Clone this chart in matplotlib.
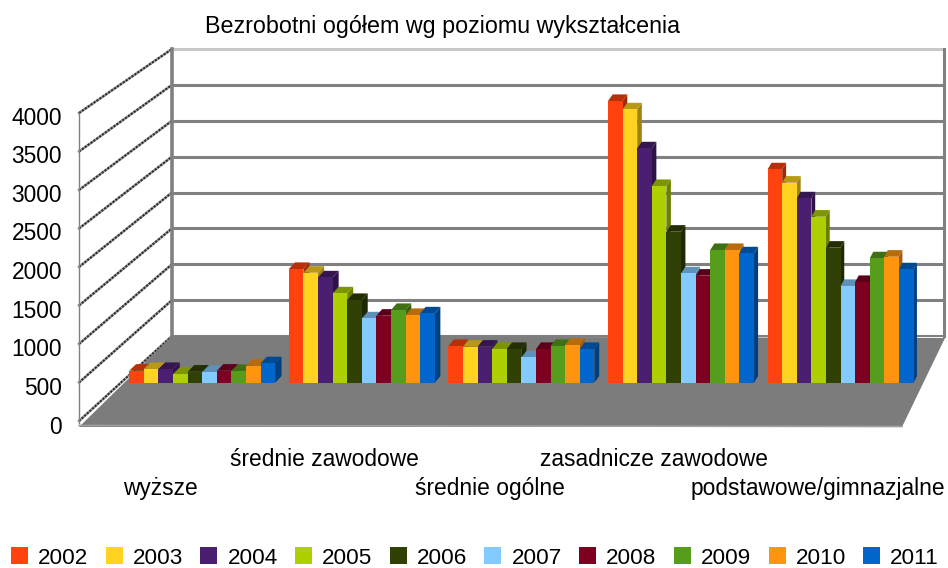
import matplotlib
matplotlib.use("Agg")
import matplotlib.pyplot as plt
from matplotlib.patches import Polygon, Rectangle
from matplotlib.colors import to_rgb

plt.rcParams['font.family'] = ['Liberation Sans', 'DejaVu Sans']

title = "Bezrobotni ogółem wg poziomu wykształcenia"
categories = ["wyższe", "średnie zawodowe", "średnie ogólne", "zasadnicze zawodowe", "podstawowe/gimnazjalne"]
years = ["2002", "2003", "2004", "2005", "2006", "2007", "2008", "2009", "2010", "2011"]
colors = ["#ff420e", "#ffd320", "#4b1f6f", "#aecf00", "#314004", "#83caff", "#7e0021", "#579d1c", "#ff950e", "#0066cc"]
yticks = [0, 500, 1000, 1500, 2000, 2500, 3000, 3500, 4000]

wyzsze = [161, 184, 184, 117, 148, 144, 161, 157, 228, 261]
srednie_zawodowe = [1528, 1478, 1415, 1200, 1111, 864, 900, 977, 910, 931]
srednie_ogolne = [493, 484, 484, 453, 453, 340, 453, 493, 507, 453]
zasadnicze = [3786, 3673, 3149, 2643, 2029, 1469, 1438, 1783, 1783, 1738]
podstawowe = [2867, 2688, 2477, 2231, 1814, 1300, 1353, 1671, 1693, 1523]
groups = [wyzsze, srednie_zawodowe, srednie_ogolne, zasadnicze, podstawowe]

W, H = 948, 568
fig = plt.figure(figsize=(W / 100, H / 100), dpi=100)

# Frame axes in pixel units: walls, floor and texts
fr = fig.add_axes([0, 0, 1, 1])
fr.set_xlim(0, W)
fr.set_ylim(H, 0)
fr.axis("off")

# Bar axes: categories on x, values on y
PX_PER_CAT = 159.6
CAT0_PX = 202.2
BASE_PX = 382.7
VAL_PER_PX = 13.44
ax = fig.add_axes([0, 0, 1, 1])
ax.patch.set_alpha(0)
ax.axis("off")
ax.set_xlim((0 - CAT0_PX) / PX_PER_CAT, (W - CAT0_PX) / PX_PER_CAT)
ax.set_ylim((BASE_PX - H) * VAL_PER_PX, BASE_PX * VAL_PER_PX)

bw = 14.6 / PX_PER_CAT
dy = 6.6 * VAL_PER_PX


def depth_dx(cat_pos):
    # Perspective: the side faces narrow towards the right of the chart
    return (6.6 - 0.75 * cat_pos) / PX_PER_CAT


# Walls / floor
L0, L1, R1 = 79, 172, 944
F0, F1, FT0, FT1 = 423, 336, 113, 49
for t in yticks:
    f = t / yticks[-1]
    yb = F1 + (FT1 - F1) * f
    yf = F0 - 2 + (FT0 - F0 + 2) * f
    c = "#c8c8c8" if t == yticks[-1] else "#808080"
    fr.plot([L1, R1], [yb, yb], color=c, lw=2.2 if t else 1.5, solid_capstyle="butt", zorder=1)
    fr.plot([L0, L1], [yf, yb], color="#a8a8a8", lw=1.9, zorder=1)
    fr.plot([L0, L1], [yf, yb], color="#303030", lw=1.5, ls=(0, (1.1, 0.6)), zorder=1.1)
fr.plot([L1, L1], [FT1, F1], color="#808080", lw=2.6, zorder=1.2)
fr.plot([R1, R1], [FT1, F1], color="#808080", lw=2.2, zorder=1.2)
fr.plot([L0, L0], [FT0, F0], color="#808080", lw=1.0, zorder=1.2)
fr.add_patch(Polygon([(L0, 427), (L1, F1), (R1 + 1, 338), (902, 427)], closed=True,
                     facecolor="#7c7c7c", edgecolor="none", zorder=2))
fr.plot([L0, 902], [425.5, 426.5], color="#a0a0a0", lw=1.2, zorder=2.1)


def shade(c, k):
    return tuple(v * k for v in to_rgb(c))


z = 3
for i, vals in enumerate(groups):
    for j, v in enumerate(vals):
        x0 = i + (j - 5) * bw
        x1 = x0 + bw
        dx = depth_dx(x0)
        ax.bar(x0, v, width=bw, align="edge", color=colors[j], edgecolor="none", zorder=z + 0.2)
        ax.add_patch(Polygon([(x1, 0), (x1 + dx, dy), (x1 + dx, v + dy), (x1, v)], closed=True,
                             facecolor=shade(colors[j], 0.62), edgecolor="none", zorder=z))
        ax.add_patch(Polygon([(x0, v), (x0 + dx, v + dy), (x1 + dx, v + dy), (x1, v)], closed=True,
                             facecolor=shade(colors[j], 0.72), edgecolor="none", zorder=z + 0.1))
        z += 1

# Texts
FS = 16.4
fr.text(443, 26, title, ha="center", va="center", fontsize=16.75, zorder=5)
for k, t in enumerate(yticks):
    ypix = 427 - 38.6 * k
    fr.text(62, ypix, str(t), ha="right", va="center", fontsize=FS)
label_px = [(160, 489), (324, 459), (490, 489), (654, 459), (818, 489)]
for name, (lx, ly) in zip(categories, label_px):
    fr.text(lx, ly, name, ha="center", va="center", fontsize=FS)
for j, (yr, col) in enumerate(zip(years, colors)):
    x = 11 + 94.7 * j
    fr.add_patch(Rectangle((x, 547), 17, 17, facecolor=col, edgecolor="none"))
    fr.text(x + 27, 558.2, yr, ha="left", va="center", fontsize=16.2)

fig.savefig("out.png", dpi=100)
